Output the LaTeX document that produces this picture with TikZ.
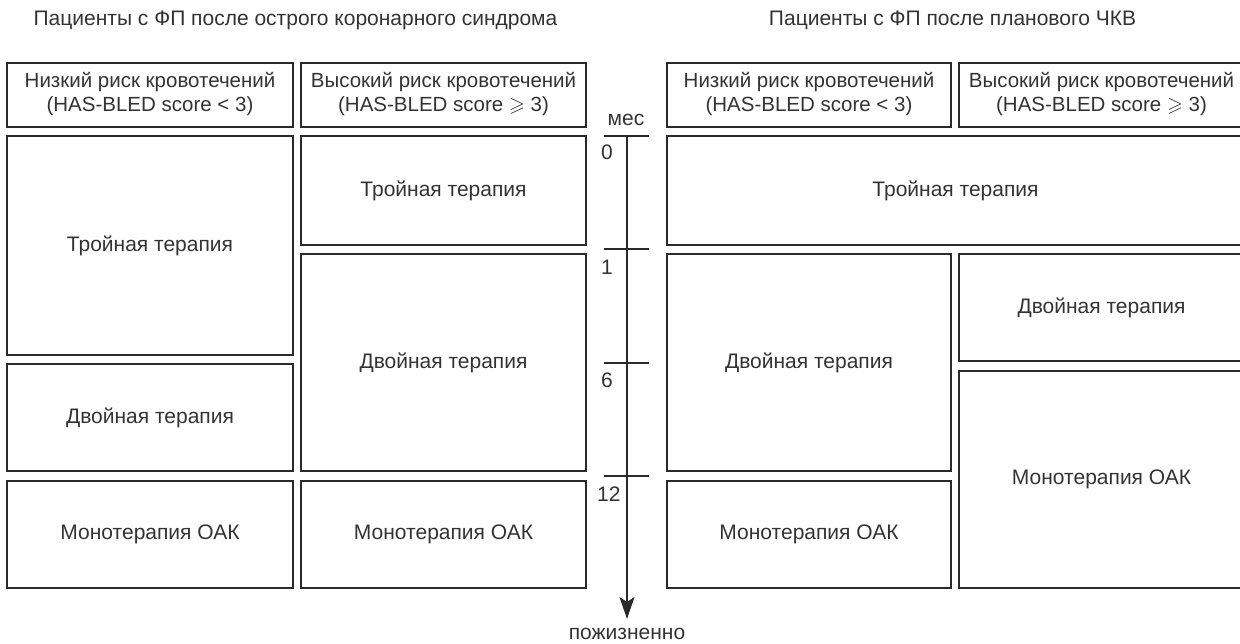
\documentclass[tikz,border=0pt]{standalone}
\usepackage{amssymb}
\usepackage{fontspec}
\setmainfont{Liberation Sans}
\usetikzlibrary{arrows.meta}
\definecolor{linec}{HTML}{2A2A2A}
\definecolor{txtc}{HTML}{333333}
\tikzset{
  box/.style={draw=linec, line width=1.8pt, inner sep=0pt, align=center, text=txtc,
    font=\fontsize{21}{25}\selectfont},
  hbox/.style={box, font=\fontsize{20.5}{24}\selectfont},
  lbl/.style={inner sep=0pt, text=txtc, font=\fontsize{21}{25}\selectfont},
  axis/.style={draw=linec, line width=1.8pt},
}
\newcommand{\hdrtext}[2]{\raisebox{3pt}{\begin{tabular}{@{}c@{}}#1\\[0pt](HAS-BLED score #2 3)\end{tabular}}}
\begin{document}
\begin{tikzpicture}[x=1pt,y=-1pt]
\useasboundingbox (0,0) rectangle (1240,644);
% titles
\node[lbl] (tl) at (295.5,20) {Пациенты с ФП после острого коронарного синдрома};
\node[lbl] (tr) at (952.5,20) {Пациенты с ФП после планового ЧКВ};
% headers
\node[hbox, minimum width=286.2pt, minimum height=64.2pt] (h1) at (150,95) {\hdrtext{Низкий риск кровотечений}{<}};
\node[hbox, minimum width=285.2pt, minimum height=64.2pt] (h2) at (443.5,95) {\hdrtext{Высокий риск кровотечений}{$\geqslant$}};
\node[hbox, minimum width=284.2pt, minimum height=64.2pt] (h3) at (809,95) {\hdrtext{Низкий риск кровотечений}{<}};
\node[hbox, minimum width=285.2pt, minimum height=64.2pt] (h4) at (1101.5,95) {\hdrtext{Высокий риск кровотечений}{$\geqslant$}};
% column 1
\node[box, minimum width=286.2pt, minimum height=219.2pt] (a1) at (150,245.5) {Тройная терапия};
\node[box, minimum width=286.2pt, minimum height=107.2pt] (a2) at (150,417.5) {Двойная терапия};
\node[box, minimum width=286.2pt, minimum height=107.2pt] (a3) at (150,534.5) {Монотерапия ОАК};
% column 2
\node[box, minimum width=285.2pt, minimum height=109.2pt] (b1) at (443.5,190.5) {Тройная терапия};
\node[box, minimum width=285.2pt, minimum height=217.2pt] (b2) at (443.5,362.5) {Двойная терапия};
\node[box, minimum width=285.2pt, minimum height=107.2pt] (b3) at (443.5,534.5) {Монотерапия ОАК};
% right side
\node[box, minimum width=577.2pt, minimum height=109.2pt] (c1) at (955.5,190.5) {Тройная терапия};
\node[box, minimum width=284.2pt, minimum height=217.2pt] (c2) at (809,362.5) {Двойная терапия};
\node[box, minimum width=284.2pt, minimum height=107.2pt] (c3) at (809,534.5) {Монотерапия ОАК};
\node[box, minimum width=285.2pt, minimum height=107.2pt] (d2) at (1101.5,307.5) {Двойная терапия};
\node[box, minimum width=285.2pt, minimum height=217.2pt] (d3) at (1101.5,479.5) {Монотерапия ОАК};
% timeline
\coordinate (ax0) at (627,136);
\coordinate (axe) at (627,619);
\coordinate (k0l) at (604,136); \coordinate (k0r) at (649,136);
\coordinate (k1l) at (604,249); \coordinate (k1r) at (649,249);
\coordinate (k6l) at (604,363); \coordinate (k6r) at (649,363);
\coordinate (k12l) at (604,476); \coordinate (k12r) at (649,476);
\draw[axis, -{Stealth[length=22pt,width=15pt,inset=5pt]}] (ax0) -- (axe);
\draw[axis] (k0l) -- (k0r);
\draw[axis] (k1l) -- (k1r);
\draw[axis] (k6l) -- (k6r);
\draw[axis] (k12l) -- (k12r);
\node[lbl] (mes) at (626,120) {мес};
\node[lbl, anchor=west] (n0) at (601,152.5) {0};
\node[lbl, anchor=west] (n1) at (601,267) {1};
\node[lbl, anchor=west] (n6) at (601,380) {6};
\node[lbl, anchor=west] (n12) at (597,494) {12};
\node[lbl] (life) at (627,634) {пожизненно};
\end{tikzpicture}
\end{document}
